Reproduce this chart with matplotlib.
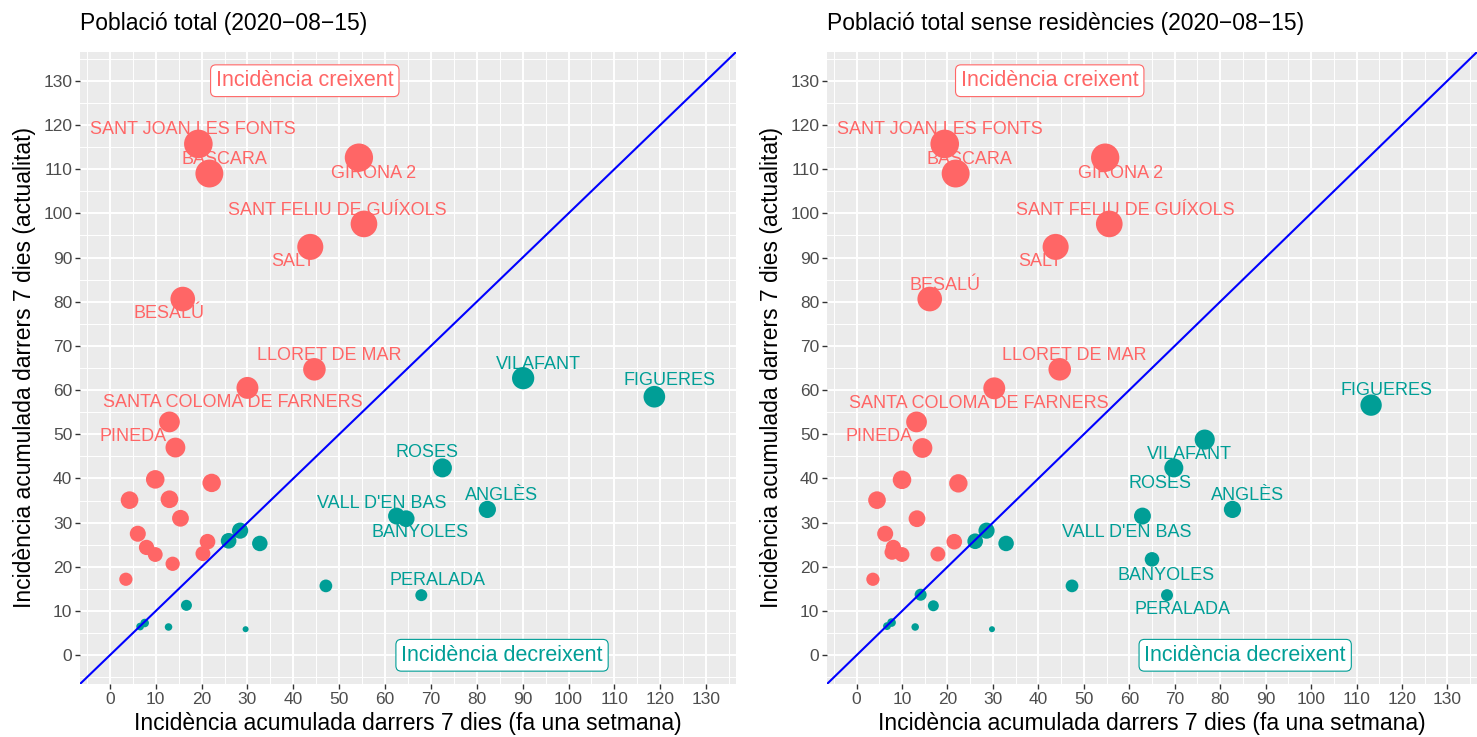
import numpy as np
import matplotlib
matplotlib.use("Agg")
import matplotlib.pyplot as plt

plt.rcParams['font.family'] = ['Liberation Sans', 'DejaVu Sans']

# dades: incidència fa una setmana (x) i actual (y)
left_names = ["SANT JOAN LES FONTS", "BÀSCARA", "GIRONA 2", "SANT FELIU DE GUÍXOLS", "SALT",
              "BESALÚ", "LLORET DE MAR", "SANTA COLOMA DE FARNERS", "PINEDA", "",
              "", "", "", "", "", "", "", "", "", "", "", "",
              "VILAFANT", "FIGUERES", "ROSES", "ANGLÈS", "VALL D'EN BAS", "BANYOLES", "PERALADA",
              "", "", "", "", "", "", "", "", ""]
left_x = [19.3, 21.7, 54.3, 55.4, 43.7, 15.9, 44.6, 30.0, 13.0, 14.3,
          9.9, 22.2, 4.3, 13.0, 15.4, 6.1, 8.0, 9.9, 21.3, 20.3, 13.7, 3.5,
          90.1, 118.7, 72.5, 82.3, 62.5, 64.6, 67.9,
          28.4, 25.9, 32.7, 47.1, 16.7, 6.6, 7.6, 12.8, 29.6]
left_y = [115.7, 109.0, 112.6, 97.6, 92.4, 80.6, 64.7, 60.5, 52.8, 47.0,
          39.8, 39.0, 35.1, 35.3, 31.0, 27.5, 24.4, 22.8, 25.7, 23.0, 20.7, 17.2,
          62.7, 58.5, 42.4, 33.0, 31.5, 30.9, 13.6,
          28.2, 25.9, 25.3, 15.7, 11.3, 6.5, 7.3, 6.4, 5.9]

right_names = ["SANT JOAN LES FONTS", "BÀSCARA", "GIRONA 2", "SANT FELIU DE GUÍXOLS", "SALT",
               "BESALÚ", "LLORET DE MAR", "SANTA COLOMA DE FARNERS", "PINEDA", "",
               "", "", "", "", "", "", "", "", "", "", "",
               "FIGUERES", "VILAFANT", "ROSES", "ANGLÈS", "VALL D'EN BAS", "BANYOLES", "PERALADA",
               "", "", "", "", "", "", "", "", "", ""]
right_x = [19.4, 21.8, 54.7, 55.6, 43.8, 16.1, 44.7, 30.3, 13.2, 14.5,
           10.0, 22.4, 4.5, 13.3, 6.3, 8.1, 7.8, 10.0, 17.9, 21.5, 3.6,
           113.2, 76.6, 69.8, 82.7, 62.9, 65.0, 68.3,
           28.6, 26.1, 32.9, 47.4, 14.1, 16.9, 6.7, 7.7, 12.9, 29.8]
right_y = [115.7, 109.0, 112.6, 97.6, 92.4, 80.6, 64.7, 60.4, 52.8, 46.9,
           39.7, 38.9, 35.1, 30.9, 27.5, 24.4, 23.3, 22.8, 22.9, 25.7, 17.2,
           56.6, 48.8, 42.4, 33.0, 31.5, 21.7, 13.6,
           28.2, 25.8, 25.3, 15.7, 13.7, 11.2, 6.6, 7.4, 6.4, 5.9]

ticks = list(range(0, 131, 10))

# posicions de les etiquetes (offset en píxels)
left_offsets = {
    "SANT JOAN LES FONTS": (-5, 14), "BÀSCARA": (15, 14), "GIRONA 2": (15, -16),
    "SANT FELIU DE GUÍXOLS": (-27, 13), "SALT": (-17, -15), "BESALÚ": (-14, -14),
    "LLORET DE MAR": (15, 14), "SANTA COLOMA DE FARNERS": (-15, -15), "PINEDA": (-36, -15),
    "VILAFANT": (15, 14), "FIGUERES": (15, 16), "ROSES": (-15, 15), "ANGLÈS": (14, 14),
    "VALL D'EN BAS": (-15, 13), "BANYOLES": (14, -14), "PERALADA": (16, 15),
}
right_offsets = {
    "SANT JOAN LES FONTS": (-5, 14), "BÀSCARA": (14, 14), "GIRONA 2": (15, -16),
    "SANT FELIU DE GUÍXOLS": (16, 13), "SALT": (-16, -15), "BESALÚ": (15, 14),
    "LLORET DE MAR": (15, 14), "SANTA COLOMA DE FARNERS": (-15, -15), "PINEDA": (-37, -15),
    "FIGUERES": (15, 15), "VILAFANT": (-15, -15), "ROSES": (-14, -16), "ANGLÈS": (15, 14),
    "VALL D'EN BAS": (-16, -16), "BANYOLES": (14, -16), "PERALADA": (15, -14),
}

RED = '#FF6666'
TEAL = '#009E96'


def draw_panel(ax, title, names, xs, ys, offsets):
    xs = np.array(xs)
    ys = np.array(ys)
    ax.set_facecolor('#EBEBEB')
    ax.set_xlim(-6.5, 136.5)
    ax.set_ylim(-6.5, 136.5)
    ax.set_xticks(ticks)
    ax.set_yticks(ticks)
    ax.set_xticks(np.arange(-5, 136, 10), minor=True)
    ax.set_yticks(np.arange(-5, 136, 10), minor=True)
    ax.grid(which='major', color='white', linewidth=1.4, zorder=0)
    ax.grid(which='minor', color='white', linewidth=0.7, zorder=0)
    ax.set_axisbelow(True)
    for s in ax.spines.values():
        s.set_visible(False)
    ax.tick_params(which='major', length=3.5, width=1, color='#333333',
                   labelsize=12.5, labelcolor='#4D4D4D', pad=2)
    ax.tick_params(which='minor', length=0)

    cols = np.where(ys > xs, RED, TEAL)
    # mida com scale_size de ggplot (àrea)
    r = (ys - ys.min()) / (ys.max() - ys.min())
    d_px = 6 + 22.6 * np.sqrt(r)
    ax.scatter(xs, ys, s=(d_px * 0.72) ** 2, c=cols, linewidths=0, zorder=3)

    ax.axline((0, 0), slope=1, color='#0000FF', linewidth=1.5, zorder=4)

    for n, x, y, c in zip(names, xs, ys, cols):
        if n:
            dx, dy = offsets[n]
            ax.annotate(n, (x, y), xytext=(dx, dy), textcoords='offset pixels',
                        ha='center', va='center', fontsize=13, color=c, zorder=2)

    ax.text(42.5, 130, "Incidència creixent", ha='center', va='center', fontsize=15.5,
            color=RED, zorder=5,
            bbox=dict(boxstyle='round,pad=0.25,rounding_size=0.25', fc='white', ec=RED, lw=0.8))
    ax.text(85.5, 0, "Incidència decreixent", ha='center', va='center', fontsize=15.5,
            color=TEAL, zorder=5,
            bbox=dict(boxstyle='round,pad=0.25,rounding_size=0.25', fc='white', ec=TEAL, lw=0.8))

    ax.set_title(title, loc='left', fontsize=16.5, pad=16)
    ax.set_xlabel("Incidència acumulada darrers 7 dies (fa una setmana)", fontsize=16.5, labelpad=4)
    ax.set_ylabel("Incidència acumulada darrers 7 dies (actualitat)", fontsize=16.5, labelpad=5)


fig = plt.figure(figsize=(14.77, 7.37), dpi=100)
ax1 = fig.add_axes([80 / 1477, 53 / 737, 656 / 1477, 632 / 737])
ax2 = fig.add_axes([827 / 1477, 53 / 737, 650 / 1477, 632 / 737])

draw_panel(ax1, "Població total (2020−08−15)", left_names, left_x, left_y, left_offsets)
draw_panel(ax2, "Població total sense residències (2020−08−15)", right_names, right_x, right_y, right_offsets)

fig.savefig("out.png", dpi=100)
